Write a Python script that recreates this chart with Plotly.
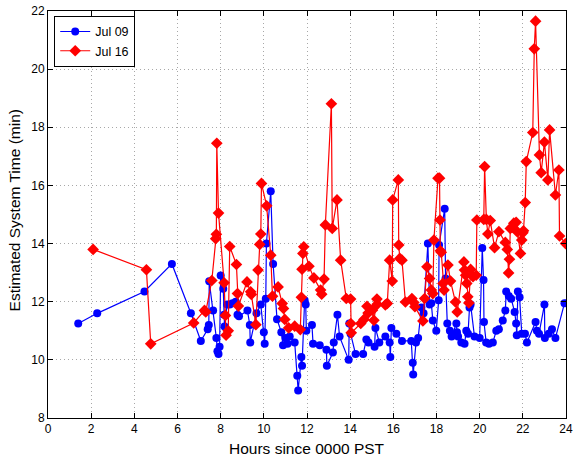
import plotly.graph_objects as go

# Jul 09 series
jul09_hours = [1.40, 2.28, 4.47, 5.74, 6.62, 7.08, 7.40, 7.45, 7.47, 7.65, 7.80, 7.85, 7.90, 7.95,
               8.00, 8.12, 8.16, 8.18, 8.30, 8.42, 8.55, 8.70, 8.78, 8.85, 9.24, 9.35, 9.37, 9.66,
               9.86, 10.00, 10.04, 10.09, 10.12, 10.32, 10.43, 10.61, 10.81, 10.89, 11.01, 11.10,
               11.20, 11.43, 11.55, 11.59, 11.74, 11.77, 11.89, 11.94, 11.97, 12.23, 12.28, 12.59,
               12.90, 12.92, 13.20, 13.24, 13.41, 13.51, 13.93, 13.96, 14.02, 14.25, 14.60, 14.75,
               14.85, 15.13, 15.17, 15.35, 15.63, 15.83, 15.86, 15.91, 16.14, 16.40, 16.83, 16.90,
               16.92, 17.05, 17.15, 17.30, 17.40, 17.60, 17.68, 17.76, 17.83, 17.99, 18.10, 18.12,
               18.38, 18.42, 18.50, 18.62, 18.70, 18.92, 18.95, 19.00, 19.15, 19.30, 19.38, 19.46,
               19.53, 19.58, 19.76, 20.00, 20.12, 20.18, 20.20, 20.30, 20.43, 20.61, 20.77, 20.89,
               21.07, 21.19, 21.23, 21.35, 21.46, 21.62, 21.69, 21.72, 21.77, 21.85, 21.95, 22.10,
               22.19, 22.59, 22.65, 22.75, 23.00, 23.02, 23.20, 23.35, 23.51, 23.93]
jul09_minutes = [11.25, 11.6, 12.35, 13.3, 11.6, 10.65, 11.05, 11.2, 12.7, 11.7, 10.75, 10.3, 10.2, 10.45,
                 12.9, 12.45, 11.55, 11.15, 11.9, 11.9, 11.95, 12.0, 11.55, 11.5, 11.7, 11.2, 10.6, 11.6,
                 11.9, 10.95, 10.55, 12.1, 14.0, 15.8, 13.3, 11.4, 10.95, 10.5, 10.75, 10.55,
                 10.8, 10.6, 9.45, 8.95, 10.1, 9.8, 12.05, 11.9, 11.0, 11.2, 10.55, 10.5,
                 10.35, 9.8, 10.25, 10.6, 11.55, 10.8, 10.0, 11.25, 10.9, 10.2, 10.2, 10.7,
                 10.6, 10.45, 11.1, 10.6, 10.8, 10.6, 10.1, 11.1, 10.9, 10.65, 10.65, 9.9,
                 9.5, 10.6, 10.75, 11.8, 11.6, 14.0, 11.9, 11.95, 11.35, 11.0, 12.05, 13.95,
                 15.2, 12.8, 11.25, 11.0, 10.8, 11.25, 10.95, 10.8, 10.6, 10.55, 11.0, 10.9,
                 11.8, 11.9, 10.8, 10.75, 13.85, 12.75, 11.3, 10.6, 10.55, 10.6, 11.0, 11.05,
                 11.35, 11.7, 12.35, 12.2, 12.1, 11.65, 11.25, 10.85, 12.35, 12.15, 10.9, 10.9,
                 10.6, 11.3, 11.0, 10.9, 11.9, 10.75, 10.9, 11.05, 10.75, 11.95]

# Jul 16 series
jul16_hours = [2.09, 4.56, 4.76, 6.75, 7.25, 7.31, 7.59, 7.77, 7.80, 7.82, 7.90, 8.16, 8.22, 8.25,
               8.35, 8.42, 8.73, 8.78, 8.82, 9.22, 9.39, 9.42, 9.63, 9.73, 9.81, 9.86, 9.89, 10.13,
               10.32, 10.40, 10.66, 10.85, 10.91, 10.97, 11.15, 11.43, 11.69, 11.74, 11.77, 11.81,
               11.85, 12.09, 12.32, 12.63, 12.68, 12.79, 12.85, 13.13, 13.17, 13.39, 13.56, 13.82,
               14.02, 14.03, 14.05, 14.49, 14.64, 14.78, 14.83, 15.03, 15.10, 15.24, 15.25, 15.63,
               15.72, 15.83, 15.95, 15.97, 16.23, 16.25, 16.30, 16.40, 16.56, 16.86, 16.95, 17.00,
               17.37, 17.45, 17.56, 17.68, 17.76, 17.83, 17.88, 18.07, 18.14, 18.16, 18.18, 18.22,
               18.30, 18.35, 18.53, 18.65, 18.88, 18.96, 19.27, 19.30, 19.35, 19.40, 19.45, 19.50,
               19.58, 19.69, 19.84, 19.87, 20.19, 20.23, 20.31, 20.38, 20.49, 20.69, 20.89, 21.19,
               21.28, 21.34, 21.38, 21.42, 21.50, 21.58, 21.69, 21.75, 21.89, 21.95, 22.00, 22.03,
               22.11, 22.16, 22.46, 22.53, 22.59, 22.77, 22.85, 23.00, 23.16, 23.24, 23.51, 23.67,
               23.70, 23.98]
jul16_minutes = [13.8, 13.1, 10.55, 11.27, 11.7, 11.65, 12.73, 14.17, 14.32, 17.45, 15.05, 12.65, 11.53, 10.85,
                 11.0, 13.9, 13.28, 12.28, 11.85, 12.68, 12.34, 12.25, 11.21, 13.09, 13.97, 14.33, 16.07, 15.3,
                 13.6, 12.19, 12.51, 11.94, 11.77, 11.39, 11.1, 11.16, 11.04, 12.15, 13.12, 13.66,
                 13.89, 13.22, 12.82, 12.4, 12.26, 12.78, 14.64, 18.81, 14.52, 15.5, 13.43, 12.11,
                 12.09, 11.25, 10.93, 11.25, 11.39, 11.84, 11.61, 11.71, 11.36, 12.09, 11.91, 11.89,
                 11.94, 13.43, 12.71, 15.5, 16.19, 13.95, 13.49, 13.43, 11.99, 12.11, 11.97, 11.83,
                 11.34, 12.11, 13.2, 12.8, 12.4, 12.28, 14.12, 16.25, 16.25, 14.81, 13.75, 13.7,
                 12.63, 12.4, 13.26, 12.71, 11.99, 11.65, 13.37, 13.09, 12.91, 12.63, 12.17, 11.96,
                 13.11, 12.86, 12.91, 14.81, 14.83, 16.65, 14.83, 14.33, 14.79, 13.86, 14.41, 14.04,
                 13.8, 12.99, 13.46, 14.52, 14.56, 14.7, 14.73, 14.4, 13.66, 14.12, 14.37, 14.44,
                 15.41, 16.82, 17.82, 20.7, 21.65, 17.05, 16.44, 17.49, 16.19, 17.91, 15.67, 16.53,
                 14.26, 14.0]

x_ticks = [0, 2, 4, 6, 8, 10, 12, 14, 16, 18, 20, 22, 24]
y_ticks = [8, 10, 12, 14, 16, 18, 20, 22]

fig = go.Figure()
fig.add_trace(go.Scatter(
    x=jul09_hours, y=jul09_minutes, mode="lines+markers", name="Jul 09",
    line=dict(color="#0000ff", width=1.2),
    marker=dict(symbol="circle", size=8, color="#0000ff"),
))
fig.add_trace(go.Scatter(
    x=jul16_hours, y=jul16_minutes, mode="lines+markers", name="Jul 16",
    line=dict(color="#ff0000", width=1.2),
    marker=dict(symbol="diamond", size=9, color="#ff0000"),
))

axis_common = dict(
    showline=True, linecolor="black", linewidth=1, mirror="ticks",
    ticks="inside", ticklen=5, tickcolor="black",
    showgrid=True, gridcolor="#a8a8a8", griddash="1px,3px", gridwidth=1,
    zeroline=False, automargin=False,
    tickfont=dict(family="Liberation Sans, Arial, sans-serif", size=12, color="black"),
)

fig.update_layout(
    width=573, height=459,
    margin=dict(l=48, r=7, t=11, b=41),
    paper_bgcolor="white", plot_bgcolor="white",
    font=dict(family="Liberation Sans, Arial, sans-serif", color="black"),
    xaxis=dict(range=[0, 24], tickvals=x_ticks, **axis_common),
    yaxis=dict(range=[8, 22], tickvals=y_ticks, **axis_common),
    legend=dict(x=0.012, y=0.988, xanchor="left", yanchor="top",
                bgcolor="white", bordercolor="black", borderwidth=1,
                font=dict(size=12.5), tracegroupgap=0, itemwidth=30),
    showlegend=True,
    annotations=[
        dict(text="Hours since 0000 PST", xref="paper", yref="paper",
             x=0.5, y=-0.0738, xanchor="center", yanchor="middle",
             showarrow=False, font=dict(size=15.5)),
        dict(text="Estimated System Time (min)", xref="paper", yref="paper",
             x=-0.0656, y=0.51, xanchor="center", yanchor="middle",
             textangle=-90, showarrow=False, font=dict(size=15.5)),
    ],
)

fig.write_html("out.html", config={"displayModeBar": False},
               post_script="document.body.style.margin='0';document.body.style.overflow='hidden';")
